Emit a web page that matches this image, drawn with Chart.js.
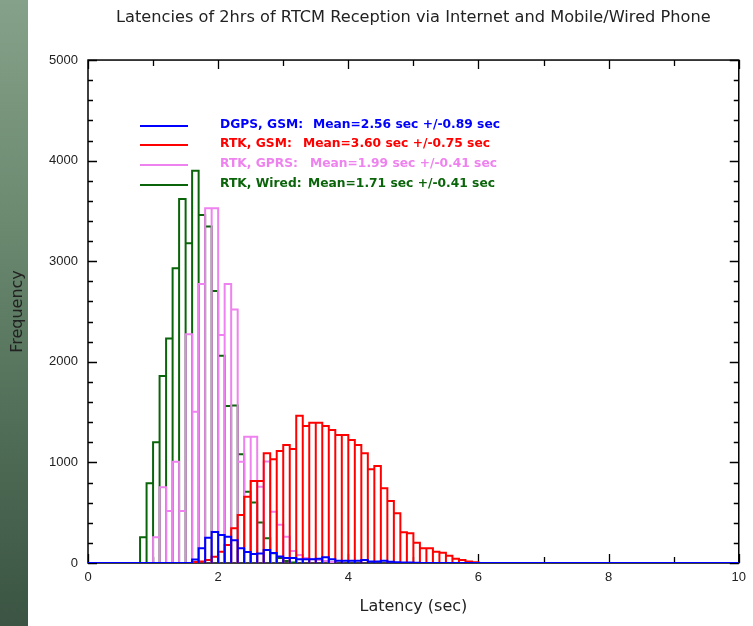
<!DOCTYPE html>
<html>
<head>
<meta charset="utf-8">
<script src="https://cdn.jsdelivr.net/npm/chart.js@4/dist/chart.umd.min.js"></script>
<style>
  html, body { margin: 0; padding: 0; background: #ffffff; }
  #wrap { position: relative; width: 753px; height: 626px; overflow: hidden; background: #ffffff; }
  #strip { position: absolute; left: 0; top: 0; width: 28px; height: 626px;
           background: linear-gradient(180deg, #86a189 0%, #6b8a70 35%, #4f6c56 70%, #3b5443 100%); }
  #c { position: absolute; left: 0; top: 0; }
</style>
</head>
<body>
<div id="wrap">
  <div id="strip"></div>
  <canvas id="c" width="753" height="626"></canvas>
</div>
<script>
// ---------------- data ----------------
const binWidth = 0.1;

// DGPS, GSM  — bins 0.0 .. 9.9
const dgpsGsmStart = 0.0;
const dgpsGsm = [
  0, 0, 0, 0, 0, 0, 0, 0, 0, 0,
  0, 0, 0, 0, 0, 0, 35, 146, 252, 308,
  278, 262, 225, 146, 110, 90, 95, 130, 100, 65,
  50, 50, 37, 37, 37, 43, 56, 37, 23, 23,
  23, 23, 30, 15, 15, 23, 12, 8, 5, 5,
  3, 0, 0, 0, 0, 0, 0, 0, 0, 0,
  0, 0, 0, 0, 0, 0, 0, 0, 0, 0,
  0, 0, 0, 0, 0, 0, 0, 0, 0, 0,
  0, 0, 0, 0, 0, 0, 0, 0, 0, 0,
  0, 0, 0, 0, 0, 0, 0, 0, 0, 0
];

// RTK, GSM — bins from 1.6
const rtkGsmStart = 1.6;
const rtkGsm = [
  10, 15, 30, 63, 112, 179, 345, 477, 659, 815,
  815, 1090, 1031, 1113, 1173, 1133, 1464, 1362, 1395, 1395,
  1362, 1322, 1272, 1272, 1223, 1173, 1090, 931, 964, 742,
  616, 494, 305, 295, 202, 146, 146, 113, 103, 73,
  43, 30, 15, 8
];

// RTK, GPRS — bins from 1.0
const rtkGprsStart = 1.0;
const rtkGprs = [
  255, 752, 517, 1007, 517, 2273, 1504, 2773, 3526, 3526,
  2266, 2773, 2520, 1007, 1256, 1256, 759, 1010, 510, 380,
  260, 120, 80, 50, 40, 30, 20, 10
];

// RTK, Wired — bins from 0.8
const rtkWiredStart = 0.8;
const rtkWired = [
  255, 792, 1200, 1859, 2233, 2929, 3618, 3178, 3900, 3460,
  3345, 2704, 2060, 1561, 1566, 1080, 709, 602, 402, 245,
  96, 50, 20, 5
];

const seriesNames = ['DGPS, GSM:', 'RTK, GSM:', 'RTK, GPRS:', 'RTK, Wired:'];
const seriesStats = [
  'Mean=2.56 sec +/-0.89 sec',
  'Mean=3.60 sec +/-0.75 sec',
  'Mean=1.99 sec +/-0.41 sec',
  'Mean=1.71 sec +/-0.41 sec'
];
const xTickValues = [0, 2, 4, 6, 8, 10];
const yTickValues = [0, 1000, 2000, 3000, 4000, 5000];
const chartTitle = 'Latencies of 2hrs of RTCM Reception via Internet and Mobile/Wired Phone';
const xTitle = 'Latency (sec)';
const yTitle = 'Frequency';

// ---------------- styling ----------------
const colors = ['#0000ff', '#ff0000', '#ee82ee', '#0a640a'];

// histogram outline: each bin drawn as an open rectangle from the baseline
function histOutline(start, counts) {
  const pts = [];
  counts.forEach((v, i) => {
    const x0 = Math.round((start + i * binWidth) * 1000) / 1000;
    const x1 = Math.round((x0 + binWidth) * 1000) / 1000;
    pts.push({x: x0, y: 0}, {x: x0, y: v}, {x: x1, y: v}, {x: x1, y: 0});
  });
  return pts;
}

const seriesData = [
  histOutline(dgpsGsmStart, dgpsGsm),
  histOutline(rtkGsmStart, rtkGsm),
  histOutline(rtkGprsStart, rtkGprs),
  histOutline(rtkWiredStart, rtkWired)
];

const datasets = seriesData.map((d, i) => ({
  label: seriesNames[i],
  data: d,
  borderColor: colors[i],
  backgroundColor: colors[i],
  borderWidth: 2,
  pointRadius: 0,
  tension: 0,
  fill: false,
  borderJoinStyle: 'miter',
  borderCapStyle: 'butt'
}));

// frame with inward tick marks
const framePlugin = {
  id: 'frame',
  beforeDatasetsDraw(chart) {
    const {ctx, chartArea: a, scales: {x, y}} = chart;
    ctx.save();
    ctx.strokeStyle = '#000';
    ctx.lineWidth = 1.5;
    ctx.strokeRect(a.left, a.top, a.right - a.left, a.bottom - a.top);
    ctx.lineWidth = 1.3;
    ctx.beginPath();
    for (let v = y.min; v <= y.max; v += 200) {
      const py = Math.round(y.getPixelForValue(v)) + 0.5;
      const len = (v % 1000 === 0) ? 9 : 5;
      ctx.moveTo(a.left, py); ctx.lineTo(a.left + len, py);
      ctx.moveTo(a.right, py); ctx.lineTo(a.right - len, py);
    }
    for (let v = x.min; v <= x.max; v += 1) {
      const px = Math.round(x.getPixelForValue(v)) + 0.5;
      const len = (v % 2 === 0) ? 9 : 6;
      ctx.moveTo(px, a.bottom); ctx.lineTo(px, a.bottom - len);
      ctx.moveTo(px, a.top); ctx.lineTo(px, a.top + len);
    }
    ctx.stroke();
    ctx.restore();
  }
};

// legend drawn inside the plot (line sample + coloured label + coloured stats)
const legendPlugin = {
  id: 'innerLegend',
  afterDatasetsDraw(chart) {
    const {ctx, chartArea: a} = chart;
    const rowY = [65, 84, 104, 124];
    const statX = [225, 215, 222, 220];
    ctx.save();
    ctx.font = 'bold 13px "DejaVu Sans"';
    ctx.textBaseline = 'middle';
    const sx = 187 / ctx.measureText(seriesStats[0]).width;
    seriesNames.forEach((name, i) => {
      const yy = a.top + rowY[i];
      ctx.strokeStyle = colors[i];
      ctx.lineWidth = 2;
      ctx.beginPath();
      ctx.moveTo(a.left + 52, yy + 1);
      ctx.lineTo(a.left + 100, yy + 1);
      ctx.stroke();
      ctx.fillStyle = colors[i];
      ctx.save();
      ctx.translate(a.left + 132, yy);
      ctx.scale(sx, 1);
      ctx.fillText(name, 0, 0);
      ctx.restore();
      ctx.save();
      ctx.translate(a.left + statX[i], yy);
      ctx.scale(sx, 1);
      ctx.fillText(seriesStats[i], 0, 0);
      ctx.restore();
    });
    ctx.restore();
  }
};

const tickFont = {family: "'Liberation Sans', Arial, sans-serif", size: 13};
const plainNumber = v => String(v);

new Chart(document.getElementById('c'), {
  type: 'line',
  data: {datasets},
  options: {
    responsive: false,
    animation: false,
    layout: {padding: {left: 0, right: 8, top: 0, bottom: 0}},
    plugins: {
      legend: {display: false},
      tooltip: {enabled: false},
      title: {
        display: true,
        text: chartTitle,
        fullSize: false,
        color: '#222',
        font: {family: "'DejaVu Sans'", size: 16.2, weight: 'normal'},
        padding: {top: 8.3, bottom: 32.3}
      }
    },
    scales: {
      x: {
        type: 'linear',
        min: 0, max: 10,
        grid: {display: false, drawTicks: false},
        border: {display: false},
        afterBuildTicks(s) { s.ticks = xTickValues.map(v => ({value: v})); },
        afterFit(s) { s.height = 63; },
        ticks: {color: '#222', font: tickFont, padding: 7, maxRotation: 0, autoSkip: false, callback: plainNumber},
        title: {display: true, text: xTitle, color: '#222',
                font: {family: "'DejaVu Sans'", size: 16, weight: 'normal'},
                padding: {top: 0, bottom: 9.4}}
      },
      y: {
        type: 'linear',
        min: 0, max: 5000,
        grid: {display: false, drawTicks: false},
        border: {display: false},
        afterBuildTicks(s) { s.ticks = yTickValues.map(v => ({value: v})); },
        afterFit(s) { s.width = 88; },
        ticks: {color: '#222', font: tickFont, padding: 10, autoSkip: false, callback: plainNumber},
        title: {display: true, text: yTitle, color: '#222',
                font: {family: "'DejaVu Sans'", size: 16, weight: 'normal'},
                padding: {top: 8.4, bottom: 0}}
      }
    }
  },
  plugins: [framePlugin, legendPlugin]
});
</script>
</body>
</html>
